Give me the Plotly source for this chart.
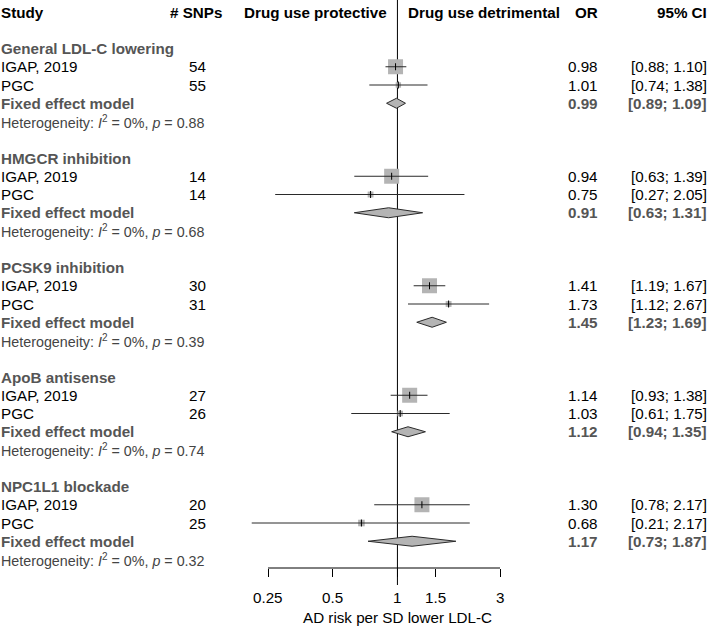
import math
import plotly.graph_objects as go

# ---------------- data ----------------
groups = ["General LDL-C lowering", "HMGCR inhibition", "PCSK9 inhibition",
          "ApoB antisense", "NPC1L1 blockade"]
studies = ["IGAP, 2019", "PGC"]
snps = [[54, 55], [14, 14], [30, 31], [27, 26], [20, 25]]
or_est = [[0.98, 1.01], [0.94, 0.75], [1.41, 1.73], [1.14, 1.03], [1.30, 0.68]]
or_lo = [[0.88, 0.74], [0.63, 0.27], [1.19, 1.12], [0.93, 0.61], [0.78, 0.21]]
or_hi = [[1.10, 1.38], [1.39, 2.05], [1.67, 2.67], [1.38, 1.75], [2.17, 2.17]]
fe_est = [0.99, 0.91, 1.45, 1.12, 1.17]
fe_lo = [0.89, 0.63, 1.23, 0.94, 0.73]
fe_hi = [1.09, 1.31, 1.69, 1.35, 1.87]
het_i2 = ["0%", "0%", "0%", "0%", "0%"]
het_p = ["0.88", "0.68", "0.39", "0.74", "0.32"]
tick_vals = [0.25, 0.5, 1, 1.5, 3]
tick_text = ["0.25", "0.5", "1", "1.5", "3"]
x_title = "AD risk per SD lower LDL-C"
label_left = "Drug use protective"
label_right = "Drug use detrimental"

# ---------------- layout constants ----------------
W, H = 709, 626
FONT = "Liberation Sans, Arial, sans-serif"
FS = 15.2
ROW0, ROWH = 12, 18.25
AX_Y = 568
GRAY_TXT = "#555555"
SQ_COL = "#b4b4b4"
LINE_COL = "#2a2a2a"
LEFT_X = -1.5

# x pixel mapping: 0.25 -> 268 px, 3 -> 500 px
px_lo, px_hi = 268.0, 500.0
scale = (px_hi - px_lo) / (math.log10(3) - math.log10(0.25))
dom_px = (236.0, 512.0)
rng = [math.log10(0.25) + (dom_px[0] - px_lo) / scale,
       math.log10(0.25) + (dom_px[1] - px_lo) / scale]


def rowy(r):
    return ROW0 + r * ROWH


def px(v):
    return v / W


fig = go.Figure()
ann = []


def text(x, y, s, anchor="left", bold=False, color="#000000", size=FS, xref="paper"):
    ann.append(dict(x=x, y=y, xref=xref, yref="y", text=("<b>%s</b>" % s) if bold else s,
                    showarrow=False, xanchor=anchor, yanchor="middle",
                    font=dict(family=FONT, size=size, color=color)))


# header
text(px(LEFT_X), rowy(0), "Study", bold=True)
text(px(224), rowy(0), "# SNPs", anchor="right", bold=True)
text(px(389), rowy(0), label_left, anchor="right", bold=True)
text(px(406), rowy(0), label_right, anchor="left", bold=True)
text(px(600), rowy(0), "OR", anchor="right", bold=True)
text(px(709), rowy(0), "95% CI", anchor="right", bold=True)

# reference line at 1
fig.add_trace(go.Scatter(x=[1, 1], y=[0, 585], mode="lines",
                         line=dict(color="#000000", width=1), hoverinfo="skip"))

for g, name in enumerate(groups):
    base = 2 + 6 * g
    text(px(LEFT_X), rowy(base), name, bold=True, color=GRAY_TXT)
    # weights for square size
    ses = [(math.log(or_hi[g][k]) - math.log(or_lo[g][k])) / 3.92 for k in range(2)]
    w = [1 / s ** 2 for s in ses]
    wmax = max(w)
    for k, st in enumerate(studies):
        y = rowy(base + 1 + k)
        text(px(LEFT_X), y, st)
        text(px(208), y, str(snps[g][k]), anchor="right")
        text(px(600), y, "%.2f" % or_est[g][k], anchor="right")
        text(px(709), y, "[%.2f; %.2f]" % (or_lo[g][k], or_hi[g][k]), anchor="right")
        size = 15 * math.sqrt(w[k] / wmax)
        fig.add_trace(go.Scatter(x=[or_est[g][k]], y=[y], mode="markers",
                                 marker=dict(symbol="square", size=size, color=SQ_COL,
                                             line=dict(width=0)), hoverinfo="skip"))
        fig.add_trace(go.Scatter(x=[or_lo[g][k], or_hi[g][k]], y=[y, y], mode="lines",
                                 line=dict(color=LINE_COL, width=1), hoverinfo="skip"))
        fig.add_trace(go.Scatter(x=[or_est[g][k]], y=[y], mode="markers",
                                 marker=dict(symbol="line-ns", size=5,
                                             line=dict(color="#000000", width=1)),
                                 hoverinfo="skip"))
    yf = rowy(base + 3)
    text(px(LEFT_X), yf, "Fixed effect model", bold=True, color=GRAY_TXT)
    text(px(600), yf, "%.2f" % fe_est[g], anchor="right", bold=True, color=GRAY_TXT)
    text(px(709), yf, "[%.2f; %.2f]" % (fe_lo[g], fe_hi[g]), anchor="right", bold=True,
         color=GRAY_TXT)
    hh = 5
    fig.add_trace(go.Scatter(x=[fe_lo[g], fe_est[g], fe_hi[g], fe_est[g], fe_lo[g]],
                             y=[yf, yf - hh, yf, yf + hh, yf], mode="lines", fill="toself",
                             fillcolor=SQ_COL, line=dict(color=LINE_COL, width=1),
                             hoverinfo="skip"))
    text(px(LEFT_X), rowy(base + 4),
         "Heterogeneity: <i>I</i><sup>2</sup> = %s, <i>p</i> = %s" % (het_i2[g], het_p[g]),
         color="#444444", size=14.3)

# axis line
fig.add_trace(go.Scatter(x=[tick_vals[0], tick_vals[-1]], y=[AX_Y, AX_Y], mode="lines",
                         line=dict(color="#000000", width=1), hoverinfo="skip"))
# tick labels and title (annotation x on log axes is given in log10 units)
for tv, tt in zip(tick_vals, tick_text):
    text(math.log10(tv), 597, tt, anchor="center", xref="x")
text(0.0, 617, x_title, anchor="center", xref="x")

fig.update_layout(
    width=W, height=H, margin=dict(l=0, r=0, t=0, b=0),
    paper_bgcolor="white", plot_bgcolor="white", showlegend=False,
    annotations=ann,
    xaxis=dict(type="log", range=rng, domain=[px(dom_px[0]), px(dom_px[1])],
               anchor="free", position=(H - AX_Y) / H, showline=False, showgrid=False,
               zeroline=False, ticks="outside", ticklen=8, tickcolor="#000000",
               tickwidth=1, tickvals=tick_vals, ticktext=tick_text,
               showticklabels=False, fixedrange=True),
    yaxis=dict(range=[H, 0], domain=[0, 1], visible=False, fixedrange=True),
)

fig.write_html("out.html", config={"displayModeBar": False},
               post_script="document.body.style.margin='0';document.body.style.overflow='hidden';")
